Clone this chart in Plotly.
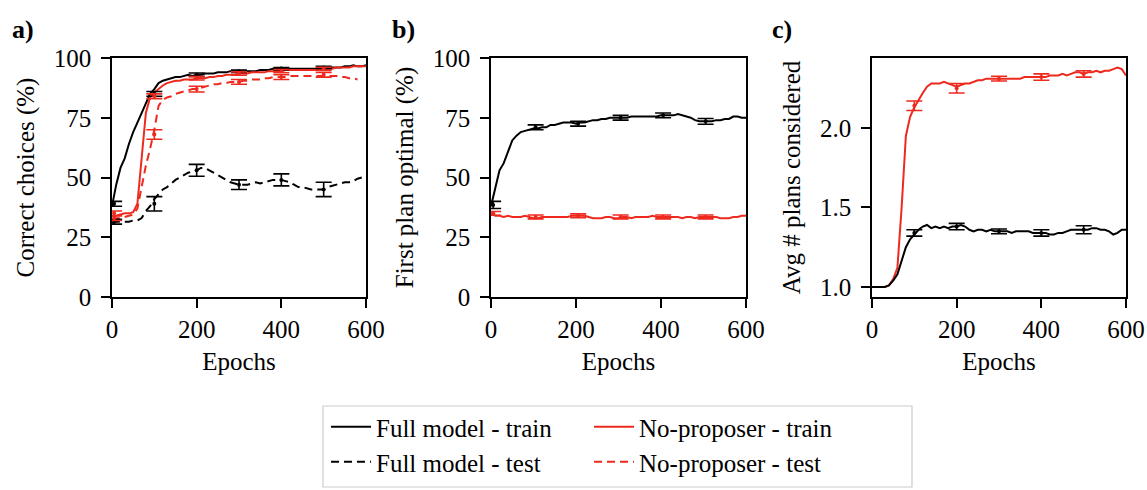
import plotly.graph_objects as go

# ---------------- data ----------------
epochs = [0, 10, 20, 30, 40, 50, 60, 70, 80, 90, 100, 110, 120, 130, 140, 150, 160, 170, 180, 190,
          200, 210, 220, 230, 240, 250, 260, 270, 280, 290, 300, 310, 320, 330, 340, 350, 360, 370, 380, 390,
          400, 410, 420, 430, 440, 450, 460, 470, 480, 490, 500, 510, 520, 530, 540, 550, 560, 570, 580, 590, 600]

# panel a: correct choices (%)
a_full_train = [38, 47, 54, 58, 64, 69, 73, 77, 81, 85, 87, 89.5, 90.5, 91, 91.5, 92, 92, 92.5, 93, 92.5,
                93, 93, 93.5, 93.5, 93.5, 94, 94, 94, 94.5, 94.5, 94.5, 94.5, 94.5, 94.5, 94.5, 95, 95, 95, 95.5, 95.5,
                96, 95.5, 95.5, 95.5, 95.5, 95.5, 95.5, 95.5, 95.5, 95.5, 96, 96, 96, 96, 96, 96.5, 96.5, 97, 96.5, 96.5, 97]
a_full_test = [31, 31.5, 31.5, 31.5, 31.5, 32, 32, 33, 36, 38, 41, 43, 45, 46, 47.5, 49, 50, 51, 52, 52.5,
               53, 54, 54, 53, 52, 51, 50, 49, 48, 47.5, 47, 47, 47, 47.5, 48, 47.5, 48, 48.5, 49, 49,
               49, 48.5, 48, 47, 46, 46, 45.5, 45, 45, 45, 45, 46, 46.5, 47, 47.5, 48, 48, 48.5, 49.5, 50, None]
a_np_train = [34, 34, 34.5, 35, 35, 35.5, 39, 58, 77, 83.5, 85.5, 87, 88.5, 89.5, 90, 90.5, 90.5, 91, 91, 91,
              91.5, 91.5, 91.5, 92, 92, 92.5, 92.5, 93, 93, 93, 93.5, 93.5, 93.5, 94, 94, 94, 94, 94.5, 94.5, 94.5,
              94.5, 95, 95, 95, 95, 95, 95, 95, 95, 95.5, 95.5, 95.5, 95.5, 96, 96, 96, 96, 96.5, 96.5, 96.5, 96.5]
a_np_test = [32.5, 33, 33, 33.5, 34, 34.5, 37, 46, 55, 62, 70, 80, 82.5, 83.5, 84, 85, 85.5, 86, 86.5, 87,
             87, 87.5, 88, 88.5, 89, 89, 89.5, 89.5, 90, 90, 90, 90.5, 90.5, 91, 91, 91, 91.5, 91.5, 92, 92,
             92, 92, 92.5, 92.5, 92.5, 92.5, 92.5, 92.5, 92.5, 92.5, 92.5, 92.5, 92.5, 92.5, 92, 92, 91.5, 91.5, 91, None, None]

a_err_x = [5, 100, 200, 300, 400, 500]
a_full_train_err_y = [39, 85, 93, 94.5, 95.5, 96]
a_full_train_err = [1, 1, 0.7, 0.5, 0.5, 0.5]
a_full_test_err_y = [31.5, 39, 53, 47, 49, 45]
a_full_test_err = [1, 3, 2.5, 2, 2.5, 3]
a_np_train_err_y = [35, 84, 91.5, 93.5, 94.5, 95.5]
a_np_train_err = [1, 1, 0.7, 0.7, 0.7, 0.6]
a_np_test_err_y = [33, 68, 87, 90, 92, 93]
a_np_test_err = [1, 2, 1.2, 1, 1, 1]

# panel b: first plan optimal (%)
b_full_train = [38, 46, 53, 56, 61, 65.5, 67.5, 69, 69.5, 70, 70.5, 70.5, 71, 71, 72, 72, 72.5, 73, 73, 73,
                72.5, 73, 73, 73.5, 74, 74, 74.5, 74.5, 75, 75, 75, 75, 75, 75.5, 75.5, 75.5, 75.5, 75.5, 75.5, 75.5,
                76, 76, 76, 76, 76.5, 76, 75.5, 75, 74, 73.5, 73.5, 73.5, 73.5, 74, 74, 74.5, 74.5, 75.5, 75.5, 75, 75]
b_np_train = [35, 34, 34, 33.5, 34, 33.5, 33.5, 33.5, 34, 33.5, 33, 33, 33.5, 33.5, 33.5, 33.5, 33.5, 33.5, 33.5, 34,
              34, 34, 34, 33.5, 33, 33, 33, 33.5, 33.5, 33, 33, 33.5, 33.5, 33, 33.5, 33.5, 33.5, 33.5, 34, 33.5,
              33.5, 33.5, 33.5, 33.5, 33.5, 33, 33.5, 33.5, 33, 33.5, 33.5, 33.5, 33.5, 33.5, 33, 33, 33, 33.5, 33.5, 34, 34]
b_err_x = [5, 105, 205, 305, 405, 505]
b_full_err_y = [38.5, 71, 72.5, 75, 76, 73.5]
b_full_err = [1.5, 1, 1, 1, 1, 1.2]
b_np_err_y = [35, 33.5, 34, 33.5, 33.5, 33.5]
b_np_err = [0.8, 0.8, 0.8, 0.8, 0.8, 0.8]

# panel c: avg # plans considered
c_full_train = [1.0, 1.0, 1.0, 1.0, 1.01, 1.04, 1.08, 1.17, 1.25, 1.3, 1.33, 1.36, 1.38, 1.39, 1.37, 1.38, 1.37, 1.38, 1.37, 1.38,
                1.38, 1.39, 1.38, 1.36, 1.35, 1.36, 1.36, 1.35, 1.36, 1.35, 1.35, 1.35, 1.35, 1.34, 1.35, 1.35, 1.35, 1.35, 1.34, 1.34,
                1.34, 1.34, 1.33, 1.33, 1.34, 1.34, 1.35, 1.36, 1.36, 1.36, 1.36, 1.36, 1.37, 1.37, 1.36, 1.36, 1.35, 1.33, 1.34, 1.36, 1.36]
c_np_train = [1.0, 1.0, 1.0, 1.0, 1.01, 1.05, 1.12, 1.5, 1.95, 2.07, 2.13, 2.18, 2.22, 2.26, 2.28, 2.28, 2.28, 2.29, 2.28, 2.27,
              2.26, 2.27, 2.28, 2.28, 2.29, 2.3, 2.3, 2.31, 2.31, 2.31, 2.31, 2.31, 2.31, 2.31, 2.31, 2.31, 2.32, 2.32, 2.32, 2.32,
              2.32, 2.32, 2.33, 2.33, 2.33, 2.34, 2.33, 2.34, 2.35, 2.35, 2.34, 2.35, 2.35, 2.36, 2.35, 2.36, 2.36, 2.37, 2.38, 2.37, 2.33]
c_err_x = [100, 200, 300, 400, 500]
c_full_err_y = [1.34, 1.38, 1.35, 1.34, 1.36]
c_full_err = [0.02, 0.02, 0.015, 0.02, 0.025]
c_np_err_y = [2.14, 2.25, 2.31, 2.32, 2.34]
c_np_err = [0.03, 0.03, 0.015, 0.02, 0.02]

legend_names = ["Full model - train", "Full model - test", "No-proposer - train", "No-proposer - test"]
panel_labels = ["a)", "b)", "c)"]
y_titles = ["Correct choices (%)", "First plan optimal (%)", "Avg # plans considered"]

# ---------------- style ----------------
BLACK = "#000000"
RED = "#ee2a1f"
FONT = "Liberation Serif"
W, H = 1147, 490
LW = 2

def px_x(p):
    return p / W

def px_y(p):
    return 1 - p / H

fig = go.Figure()

def line(x, y, color, dash, ax, name=None, legend=None):
    fig.add_trace(go.Scatter(
        x=x, y=y, mode="lines", line=dict(color=color, width=LW, dash=dash),
        xaxis="x" + ax, yaxis="y" + ax, name=name,
        showlegend=name is not None, legend=legend, hoverinfo="skip"))

def errs(x, y, e, color, ax):
    fig.add_trace(go.Scatter(
        x=x, y=y, mode="markers", marker=dict(color=color, size=4),
        error_y=dict(type="data", array=e, color=color, thickness=1.6, width=8),
        xaxis="x" + ax, yaxis="y" + ax, showlegend=False, hoverinfo="skip"))

DASH = "8px,5px"

# panel a
line(epochs, a_full_train, BLACK, "solid", "", legend_names[0], "legend")
line(epochs, a_full_test, BLACK, DASH, "", legend_names[1], "legend2")
line(epochs, a_np_train, RED, "solid", "", legend_names[2], "legend3")
line(epochs, a_np_test, RED, DASH, "", legend_names[3], "legend4")
errs(a_err_x, a_full_train_err_y, a_full_train_err, BLACK, "")
errs(a_err_x, a_full_test_err_y, a_full_test_err, BLACK, "")
errs(a_err_x, a_np_train_err_y, a_np_train_err, RED, "")
errs(a_err_x, a_np_test_err_y, a_np_test_err, RED, "")

# panel b
line(epochs, b_np_train, RED, "solid", "2")
line(epochs, b_full_train, BLACK, "solid", "2")
errs(b_err_x, b_np_err_y, b_np_err, RED, "2")
errs(b_err_x, b_full_err_y, b_full_err, BLACK, "2")

# panel c
line(epochs, c_np_train, RED, "solid", "3")
line(epochs, c_full_train, BLACK, "solid", "3")
errs(c_err_x, c_np_err_y, c_np_err, RED, "3")
errs(c_err_x, c_full_err_y, c_full_err, BLACK, "3")

tickfont = dict(family=FONT, size=25, color="black")
titlefont = dict(family=FONT, size=25, color="black")

xdoms = [(112, 366), (491, 746), (872, 1126)]
ydom = [px_y(297), px_y(58)]

common_x = dict(range=[0, 600], tickvals=[0, 200, 400, 600], showgrid=False, zeroline=False,
                showline=True, linecolor="black", linewidth=1.5, mirror=True,
                ticks="outside", ticklen=9, tickwidth=1.5, tickcolor="black",
                tickfont=tickfont, automargin=False,
                title=dict(text="Epochs", font=titlefont, standoff=11))
common_y = dict(showgrid=False, zeroline=False, showline=True, linecolor="black", linewidth=1.5,
                mirror=True, ticks="outside", ticklen=9, tickwidth=1.5, tickcolor="black",
                tickfont=tickfont, automargin=False, ticklabelstandoff=5)

layout = dict(
    width=W, height=H, margin=dict(l=0, r=0, t=0, b=0),
    paper_bgcolor="white", plot_bgcolor="white",
    font=dict(family=FONT, color="black"),
)
for i, ax in enumerate(["", "2", "3"]):
    xd = xdoms[i]
    layout["xaxis" + ax] = dict(common_x, domain=[px_x(xd[0]), px_x(xd[1])],
                                anchor="y" + ax)
    yrange = [0, 100] if i < 2 else [0.937, 2.44]
    yticks = [0, 25, 50, 75, 100] if i < 2 else [1.0, 1.5, 2.0]
    ytext = [str(v) for v in yticks] if i < 2 else ["%.1f" % v for v in yticks]
    layout["yaxis" + ax] = dict(common_y, domain=ydom, range=yrange, tickvals=yticks, ticktext=ytext,
                                anchor="x" + ax,
                                title=dict(text=y_titles[i], font=titlefont, standoff=12))

# legends: one per entry, arranged in a 2x2 grid
leg_pos = [(326, 427), (326, 462), (589, 427), (589, 462)]
for k, (lx, ly) in enumerate(leg_pos):
    key = "legend" if k == 0 else "legend%d" % (k + 1)
    layout[key] = dict(x=px_x(lx), y=px_y(ly), xanchor="left", yanchor="middle",
                       bgcolor="rgba(0,0,0,0)", borderwidth=0, itemwidth=40,
                       font=dict(family=FONT, size=25, color="black"))

fig.update_layout(**layout)

# legend frame
fig.add_shape(type="rect", xref="paper", yref="paper",
              x0=px_x(323), x1=px_x(912), y0=px_y(487), y1=px_y(406),
              line=dict(color="#cccccc", width=1.2), fillcolor="rgba(0,0,0,0)", layer="below")

# panel labels
for lab, xp in zip(panel_labels, [10, 390, 770]):
    fig.add_annotation(text="<b>%s</b>" % lab, xref="paper", yref="paper",
                       x=px_x(xp), y=px_y(30), xanchor="left", yanchor="middle",
                       showarrow=False, font=dict(family=FONT, size=26, color="black"))

# remove the default page margin so the figure fills the window exactly
fig.write_html("out.html", config={"displayModeBar": False},
               post_script="document.body.style.margin='0';document.body.style.overflow='hidden';")
